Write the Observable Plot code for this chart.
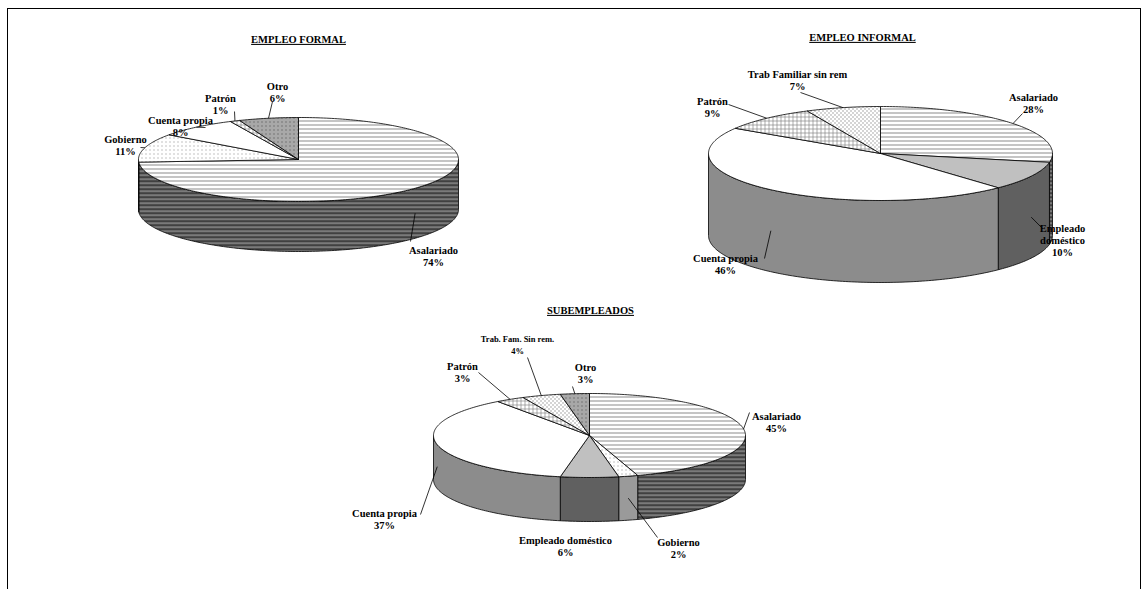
<!DOCTYPE html>
<html><head><meta charset="utf-8">
<script src="https://cdn.jsdelivr.net/npm/d3@7"></script>
<script src="https://cdn.jsdelivr.net/npm/@observablehq/plot@0.6"></script>
<style>
body{margin:0;background:#fff}
.ttl text{text-decoration:underline}
</style></head>
<body><div id="chart"></div>
<script>
const W = 1142, H = 589;

// datos
const formalCats = ["Asalariado", "Gobierno", "Cuenta propia", "Patrón", "Otro"];
const formalVals = [74, 11, 8, 1, 6];
const informalCats = ["Asalariado", "Empleado doméstico", "Cuenta propia", "Patrón", "Trab Familiar sin rem"];
const informalVals = [28, 10, 46, 9, 7];
const subCats = ["Asalariado", "Gobierno", "Empleado doméstico", "Cuenta propia", "Patrón", "Trab. Fam. Sin rem.", "Otro"];
const subVals = [45, 2, 6, 37, 3, 4, 3];

// estilos por categoria [tapa, lado]
const estilos = {
  "Asalariado": ["url(#hl)", "url(#hlDark)"],
  "Gobierno": ["url(#dotsL)", "#9a9a9a"],
  "Cuenta propia": ["#ffffff", "#8c8c8c"],
  "Patrón": ["url(#grid)", "#bbbbbb"],
  "Otro": ["url(#dotsO)", "#777777"],
  "Empleado doméstico": ["#c0c0c0", "#606060"],
  "Trab Familiar sin rem": ["url(#dotsT)", "#aaaaaa"],
  "Trab. Fam. Sin rem.": ["url(#dotsT)", "#aaaaaa"]
};

// layout de cada torta: posicion de etiqueta y comienzo de la linea guia
const pies = [
  {title: "EMPLEO FORMAL", tx: 298, ty: 39, cx: 298, cy: 159, rx: 160, ry: 42, depth: 50, cats: formalCats, vals: formalVals,
   labels: [[433, 250], [125, 139], [180, 120], [220, 98], [277, 86]],
   starts: [[410, 241], [140, 147], [205, 127], [234, 111], [272, 101]],
   lines: [["Asalariado"], ["Gobierno"], ["Cuenta propia"], ["Patrón"], ["Otro"]]},
  {title: "EMPLEO INFORMAL", tx: 862, ty: 37, cx: 880, cy: 153, rx: 172, ry: 47, depth: 82, cats: informalCats, vals: informalVals,
   labels: [[1033, 97], [1062, 228], [725, 258], [712, 101], [797, 74]],
   starts: [[1022, 113], [1042, 228], [764, 258], [728, 104], [800, 92]],
   lines: [["Asalariado"], ["Empleado", "doméstico"], ["Cuenta propia"], ["Patrón"], ["Trab Familiar sin rem"]]},
  {title: "SUBEMPLEADOS", tx: 590, ty: 310, cx: 589, cy: 435, rx: 156, ry: 42, depth: 44, cats: subCats, vals: subVals,
   labels: [[776, 416], [678, 542], [565, 540], [384, 513], [462, 366], [517, 339], [585, 367]],
   starts: [[749, 412], [657, 537], null, [420, 514], [478, 372], [527, 357], [572, 386]],
   lines: [["Asalariado"], ["Gobierno"], ["Empleado doméstico"], ["Cuenta propia"], ["Patrón"], ["Trab. Fam. Sin rem."], ["Otro"]]}
];

const rad = d => d * Math.PI / 180;
const pt = (p, a, dy = 0) => [p.cx + p.rx * Math.sin(rad(a)), p.cy - p.ry * Math.cos(rad(a)) + dy];

const sides = [], tops = [], texts = [], leaders = [];
pies.forEach(p => {
  const tot = d3.sum(p.vals);
  let a = 0;
  p.cats.forEach((c, i) => {
    const a0 = a, a1 = a + p.vals[i] / tot * 360; a = a1;
    const top = [[p.cx, p.cy]];
    for (let t = a0; t < a1; t += 1) top.push(pt(p, t));
    top.push(pt(p, a1), [p.cx, p.cy]);
    tops.push({pts: top, fill: estilos[c][0]});
    const s0 = Math.max(a0, 90), s1 = Math.min(a1, 270);
    if (s1 > s0) {
      const up = [], dn = [];
      for (let t = s0; t < s1; t += 1) { up.push(pt(p, t)); dn.push(pt(p, t, p.depth)); }
      up.push(pt(p, s1)); dn.push(pt(p, s1, p.depth));
      sides.push({pts: [...up, ...dn.reverse(), up[0]], fill: estilos[c][1]});
    }
    const [lx, ly] = p.labels[i];
    const lines = [...p.lines[i], Math.round(p.vals[i]) + "%"];
    lines.forEach((s, k) => texts.push({x: lx, y: ly + k * 12, s, small: c.startsWith("Trab.")}));
    if (p.starts[i]) {
      const mid = (a0 + a1) / 2;
      const front = mid > 100 && mid < 260;
      const [ax, ay] = pt(p, mid, front ? p.depth * 0.5 : 0);
      const [sx, sy] = p.starts[i];
      // la guia llega hasta el borde de la torta
      leaders.push({x1: sx, y1: sy, x2: ax, y2: ay});
    }
  });
});

const poly = d => Plot.line(d.pts, {x: q => q[0], y: q => q[1], fill: d.fill, stroke: "#000", strokeWidth: 0.8, curve: "linear"});

const chart = Plot.plot({
  width: W, height: H, margin: 0,
  x: {domain: [0, W], range: [0, W], axis: null},
  y: {domain: [0, H], range: [0, H], axis: null},
  style: {fontFamily: "Liberation Serif, Times New Roman, serif"},
  marks: [
    Plot.ruleX([7, 1140], {y1: 8, y2: H, stroke: "#000"}),
    Plot.ruleY([8], {x1: 7, x2: 1140, stroke: "#000"}),
    ...sides.map(poly),
    ...tops.map(poly),
    Plot.link(leaders, {x1: "x1", y1: "y1", x2: "x2", y2: "y2", stroke: "#000", strokeWidth: 0.8}),
    Plot.text(texts, {x: "x", y: "y", text: "s", fontWeight: "bold", fontSize: d => d.small ? 8.5 : 10.5, fill: "#000"}),
    Plot.text(pies, {x: "tx", y: "ty", text: "title", fontWeight: "bold", fontSize: 10.5, className: "ttl"})
  ]
});

// patrones de relleno
const defs = d3.select(chart).insert("defs", ":first-child");
function pat(id, bg, draw) {
  const p = defs.append("pattern").attr("id", id).attr("patternUnits", "userSpaceOnUse").attr("width", 4).attr("height", 4);
  p.append("rect").attr("width", 4).attr("height", 4).attr("fill", bg);
  draw(p);
}
pat("hl", "#fff", p => p.append("rect").attr("width", 4).attr("height", 1).attr("fill", "#8a8a8a"));
pat("hlDark", "#7a7a7a", p => p.append("rect").attr("width", 4).attr("height", 1.3).attr("fill", "#222"));
pat("dotsL", "#fff", p => p.append("rect").attr("x", 1).attr("y", 1).attr("width", 1).attr("height", 1).attr("fill", "#888"));
pat("dotsO", "#a8a8a8", p => p.append("rect").attr("x", 1).attr("y", 1).attr("width", 1).attr("height", 1).attr("fill", "#444"));
pat("dotsT", "#fff", p => { p.append("rect").attr("width", 1).attr("height", 1).attr("fill", "#555"); p.append("rect").attr("x", 2).attr("y", 2).attr("width", 1).attr("height", 1).attr("fill", "#555"); });
pat("grid", "#fff", p => { p.append("rect").attr("width", 4).attr("height", 0.6).attr("fill", "#777"); p.append("rect").attr("width", 0.6).attr("height", 4).attr("fill", "#777"); });

d3.select("#chart").append(() => chart);
</script></body></html>
